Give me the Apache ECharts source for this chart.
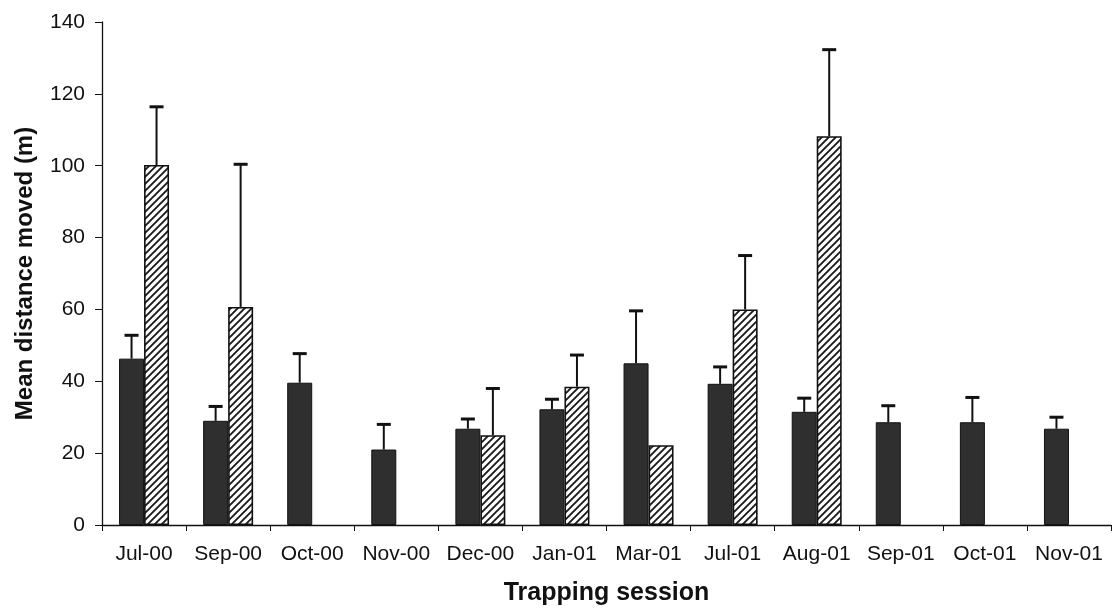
<!DOCTYPE html>
<html><head><meta charset="utf-8">
<script src="https://cdn.jsdelivr.net/npm/echarts@6/dist/echarts.min.js"></script>
<style>html,body{margin:0;padding:0;background:#fff}#c{width:1114px;height:611px}</style>
</head><body><div id="c"></div>
<script>
const categories = ['Jul-00','Sep-00','Oct-00','Nov-00','Dec-00','Jan-01','Mar-01','Jul-01','Aug-01','Sep-01','Oct-01','Nov-01'];
const solidMeans = [46.3, 29, 39.6, 21, 26.8, 32.2, 45, 39.3, 31.5, 28.6, 28.6, 26.8];
const solidErrTop = [52.8, 33, 47.7, 28, 29.5, 35, 59.6, 44, 35.3, 33.2, 35.5, 30];
const hatchMeans = [100.2, 60.7, null, null, 25, 38.5, 22.2, 60, 108.2, null, null, null];
const hatchErrTop = [116.4, 100.4, null, null, 38, 47.3, null, 75, 132.3, null, null, null];
const yTicks = {min: 0, max: 140, interval: 20};

function makePattern(){
  const s = 7;
  const cv = document.createElement('canvas');
  cv.width = s; cv.height = s;
  const g = cv.getContext('2d');
  g.fillStyle = '#fff'; g.fillRect(0,0,s,s);
  g.strokeStyle = '#1a1a1a'; g.lineWidth = 1.9;
  g.beginPath();
  g.moveTo(-1, s+1); g.lineTo(s+1, -1);
  g.moveTo(-1, 1); g.lineTo(1, -1);
  g.moveTo(s-1, s+1); g.lineTo(s+1, s-1);
  g.stroke();
  return cv;
}

const BW = 25;
function errData(means, tops){
  const out = [];
  means.forEach((m,i)=>{ if(m!=null && tops[i]!=null) out.push([i, m, tops[i]]); });
  return out;
}
function errRender(sign){
  return function(params, api){
    const i = api.value(0);
    const p0 = api.coord([i, api.value(1)]);
    const p1 = api.coord([i, api.value(2)]);
    const x = p0[0] + sign*BW/2;
    const cap = 7;
    return {type:'group', children:[
      {type:'line', shape:{x1:x,y1:p0[1],x2:x,y2:p1[1]}, style:{stroke:'#111',lineWidth:2}},
      {type:'line', shape:{x1:x-cap,y1:p1[1],x2:x+cap,y2:p1[1]}, style:{stroke:'#111',lineWidth:3}}
    ]};
  };
}

const chart = echarts.init(document.getElementById('c'));
const font = '"Liberation Sans", Arial, Helvetica, sans-serif';
chart.setOption({
  animation: false,
  backgroundColor: '#fff',
  grid: {left: 102, right: 3, top: 22, bottom: 86},
  xAxis: {
    type: 'category', data: categories, boundaryGap: true,
    axisLine: {lineStyle: {color: '#111', width: 1.3}},
    axisTick: {show: true, length: 6, lineStyle: {color: '#111'}},
    axisLabel: {color: '#111', fontSize: 21, fontFamily: font, margin: 19, interval: 0},
    name: 'Trapping session', nameLocation: 'middle', nameGap: 56,
    nameTextStyle: {fontSize: 25, fontWeight: 'bold', color: '#111', fontFamily: font}
  },
  yAxis: {
    type: 'value', min: yTicks.min, max: yTicks.max, interval: yTicks.interval,
    splitLine: {show: false},
    axisLine: {show: true, lineStyle: {color: '#111', width: 1.3}},
    axisTick: {show: true, length: 7, lineStyle: {color: '#111'}},
    axisLabel: {color: '#111', fontSize: 21, fontFamily: font, margin: 17},
    name: 'Mean distance moved (m)', nameLocation: 'middle', nameGap: 65,
    nameTextStyle: {fontSize: 24, fontWeight: 'bold', color: '#111', fontFamily: font}
  },
  series: [
    {type: 'bar', data: solidMeans, barWidth: BW, barGap: '0%',
     itemStyle: {color: '#2f2f2f', borderColor: '#111', borderWidth: 1}, z: 2},
    {type: 'bar', data: hatchMeans, barWidth: BW, barGap: '0%',
     itemStyle: {color: {image: makePattern(), repeat: 'repeat'}, borderColor: '#111', borderWidth: 1.6}, z: 2},
    {type: 'custom', data: errData(solidMeans, solidErrTop), renderItem: errRender(-1),
     encode: {x: 0, y: [1, 2]}, z: 3},
    {type: 'custom', data: errData(hatchMeans, hatchErrTop), renderItem: errRender(1),
     encode: {x: 0, y: [1, 2]}, z: 3}
  ]
});
</script>
</body></html>
